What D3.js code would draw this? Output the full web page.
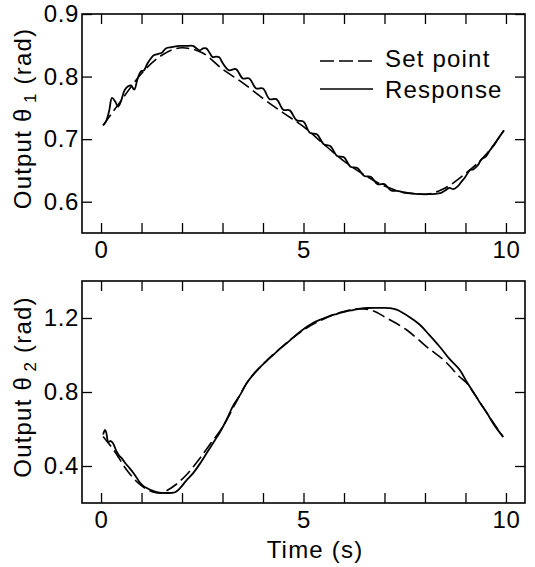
<!DOCTYPE html>
<html>
<head>
<meta charset="utf-8">
<script src="https://cdn.jsdelivr.net/npm/d3@7"></script>
<style>
  body { margin: 0; background: #fff; }
  svg text { font-family: "Liberation Sans", Arial, sans-serif; fill: #000; }
</style>
</head>
<body>
<script>
// ---- data ----
// top panel: theta 1
var set_t1 = [0.05, 0.5, 1.0, 1.5, 2.0, 2.5, 3.0, 3.5, 4.0, 4.5, 5.0, 5.5, 6.0, 6.5, 7.0, 7.5, 8.0, 8.5, 9.0, 9.5, 9.95];
var set_v1 = [0.722, 0.762, 0.805, 0.834, 0.846, 0.838, 0.812, 0.79, 0.765, 0.742, 0.72, 0.692, 0.665, 0.643, 0.625, 0.615, 0.612, 0.622, 0.645, 0.675, 0.714];

var resp_t1 = [0.05, 0.12, 0.2, 0.27, 0.35, 0.42, 0.5, 0.58, 0.66, 0.74, 0.82, 0.9, 0.98, 1.06, 1.14, 1.22, 1.3, 1.4, 1.5, 1.6, 1.75, 1.95, 2.1, 2.27, 2.36, 2.44, 2.52, 2.6, 2.68, 2.76, 2.84, 2.92, 3.0, 3.16, 3.33, 3.5, 3.66, 3.83, 4.0, 4.16, 4.33, 4.5, 4.66, 4.83, 5.0, 5.16, 5.33, 5.5, 5.66, 5.83, 6.0, 6.16, 6.33, 6.5, 6.66, 6.83, 7.0, 7.16, 7.35, 7.5, 7.7, 7.9, 8.1, 8.3, 8.4, 8.5, 8.6, 8.7, 8.8, 8.9, 9.0, 9.1, 9.2, 9.3, 9.4, 9.5, 9.6, 9.7, 9.8, 9.95];
var resp_v1 = [0.722, 0.728, 0.745, 0.766, 0.760, 0.752, 0.762, 0.778, 0.784, 0.786, 0.779, 0.796, 0.808, 0.810, 0.820, 0.828, 0.834, 0.836, 0.838, 0.845, 0.847, 0.849, 0.849, 0.849, 0.845, 0.842, 0.845, 0.845, 0.838, 0.831, 0.832, 0.831, 0.822, 0.810, 0.812, 0.797, 0.797, 0.781, 0.781, 0.764, 0.764, 0.747, 0.746, 0.730, 0.728, 0.710, 0.708, 0.692, 0.689, 0.673, 0.671, 0.656, 0.654, 0.641, 0.640, 0.628, 0.628, 0.618, 0.617, 0.614, 0.613, 0.612, 0.612, 0.613, 0.614, 0.618, 0.622, 0.620, 0.624, 0.632, 0.640, 0.650, 0.652, 0.658, 0.668, 0.672, 0.682, 0.690, 0.700, 0.714];

// bottom panel: theta 2
var set_t2 = [0.05, 0.3, 0.63, 0.96, 1.28, 1.5, 1.65, 1.85, 2.1, 2.4, 2.7, 3.0, 3.3, 3.6, 4.0, 4.5, 5.0, 5.5, 6.0, 6.4, 6.7, 7.05, 7.55, 8.05, 8.54, 8.86, 9.03, 9.19, 9.53, 9.93];
var set_v2 = [0.56, 0.49, 0.38, 0.30, 0.26, 0.253, 0.27, 0.30, 0.35, 0.43, 0.52, 0.61, 0.73, 0.849, 0.95, 1.05, 1.135, 1.195, 1.235, 1.25, 1.24, 1.2, 1.135, 1.043, 0.957, 0.881, 0.849, 0.8, 0.686, 0.557];

var resp_t2 = [0.05, 0.1, 0.13, 0.18, 0.24, 0.3, 0.38, 0.45, 0.52, 0.6, 0.7, 0.8, 0.9, 0.96, 1.05, 1.13, 1.25, 1.38, 1.5, 1.62, 1.75, 1.83, 1.95, 2.1, 2.27, 2.45, 2.61, 2.8, 2.94, 3.1, 3.26, 3.45, 3.6, 3.8, 3.93, 4.1, 4.25, 4.45, 4.59, 4.75, 4.91, 5.1, 5.23, 5.4, 5.58, 5.75, 5.9, 6.05, 6.22, 6.4, 6.57, 6.8, 7.0, 7.14, 7.3, 7.46, 7.65, 7.88, 8.1, 8.37, 8.6, 8.86, 9.03, 9.19, 9.35, 9.53, 9.7, 9.93];
var resp_v2 = [0.57, 0.595, 0.58, 0.53, 0.535, 0.522, 0.48, 0.455, 0.44, 0.415, 0.39, 0.362, 0.33, 0.31, 0.29, 0.281, 0.268, 0.259, 0.255, 0.254, 0.255, 0.258, 0.28, 0.32, 0.36, 0.415, 0.47, 0.535, 0.584, 0.65, 0.725, 0.79, 0.849, 0.905, 0.935, 0.97, 1.0, 1.04, 1.065, 1.095, 1.124, 1.155, 1.173, 1.19, 1.205, 1.218, 1.227, 1.236, 1.243, 1.25, 1.254, 1.255, 1.255, 1.253, 1.245, 1.227, 1.2, 1.162, 1.11, 1.043, 0.98, 0.919, 0.855, 0.8, 0.745, 0.686, 0.625, 0.557];

var x_ticks = [0, 1, 2, 3, 4, 5, 6, 7, 8, 9, 10];
var x_labels = [0, 5, 10];
var y1_ticks = [0.6, 0.7, 0.8, 0.9];
var y2_ticks = [0.4, 0.8, 1.2];

var legend_labels = ["Set point", "Response"];

// ---- layout ----
var W = 535, H = 567;
var left = 82, right = 525;

var svg = d3.select("body").append("svg")
  .attr("width", W)
  .attr("height", H);

function zip(a, b){
  var out = [];
  for(var i = 0; i < a.length; i++){ out.push([a[i], b[i]]); }
  return out;
}

function draw_panel(top, bottom, y_domain, y_ticks, set_t, set_v, resp_t, resp_v, sub){
  var x = d3.scaleLinear().domain([-0.47, 10.47]).range([left, right]);
  var y = d3.scaleLinear().domain(y_domain).range([bottom, top]);
  var g = svg.append("g");

  // ticks on all four sides, pointing in
  g.append("g")
    .attr("transform", "translate(0," + bottom + ")")
    .call(d3.axisBottom(x).tickValues(x_ticks).tickSize(-10).tickPadding(8)
      .tickFormat(function(d){ return x_labels.indexOf(d) >= 0 ? d : ""; }))
    .call(function(a){ a.select(".domain").remove(); });
  g.append("g")
    .attr("transform", "translate(0," + top + ")")
    .call(d3.axisTop(x).tickValues(x_ticks).tickSize(-10).tickFormat(""))
    .call(function(a){ a.select(".domain").remove(); });
  g.append("g")
    .attr("transform", "translate(" + left + ",0)")
    .call(d3.axisLeft(y).tickValues(y_ticks).tickSize(-10).tickPadding(3).tickFormat(d3.format(".1f")))
    .call(function(a){ a.select(".domain").remove(); });
  g.append("g")
    .attr("transform", "translate(" + right + ",0)")
    .call(d3.axisRight(y).tickValues(y_ticks).tickSize(-10).tickFormat(""))
    .call(function(a){ a.select(".domain").remove(); });

  g.selectAll(".tick line").attr("stroke", "#000").attr("stroke-width", 1.3);
  g.selectAll(".tick text")
    .style("font-size", "24px")
    .style("letter-spacing", "0.6px")
    .style("font-family", "Liberation Sans, Arial, sans-serif");

  // frame
  g.append("rect")
    .attr("x", left).attr("y", top)
    .attr("width", right - left).attr("height", bottom - top)
    .attr("fill", "none").attr("stroke", "#000").attr("stroke-width", 1.6);

  var line = d3.line()
    .x(function(d){ return x(d[0]); })
    .y(function(d){ return y(d[1]); });

  g.append("path")
    .datum(zip(set_t, set_v))
    .attr("d", line.curve(d3.curveMonotoneX))
    .attr("fill", "none").attr("stroke", "#000").attr("stroke-width", 1.6)
    .attr("stroke-dasharray", "13,5");

  g.append("path")
    .datum(zip(resp_t, resp_v))
    .attr("d", line.curve(d3.curveCatmullRom.alpha(0.5)))
    .attr("fill", "none").attr("stroke", "#000").attr("stroke-width", 1.8)
    .attr("stroke-linejoin", "round");

  // y label
  var yl = g.append("text")
    .attr("transform", "translate(31," + ((top + bottom) / 2 - 5) + ") rotate(-90)")
    .attr("text-anchor", "middle")
    .style("font-size", "24px")
    .style("letter-spacing", "1.2px");
  yl.append("tspan").text("Output \u03b8");
  yl.append("tspan").attr("dy", 5).style("font-size", "17px").text("\u2009" + sub);
  yl.append("tspan").attr("dy", -5).text(" (rad)");
}

draw_panel(14, 233, [0.55, 0.9], y1_ticks, set_t1, set_v1, resp_t1, resp_v1, "1");
draw_panel(281, 503, [0.2, 1.4], y2_ticks, set_t2, set_v2, resp_t2, resp_v2, "2");

// x label
svg.append("text")
  .attr("x", 315).attr("y", 558)
  .attr("text-anchor", "middle")
  .style("font-size", "24px")
  .style("letter-spacing", "1.2px")
  .text("Time (s)");

// legend
var leg = svg.append("g");
leg.selectAll("line")
  .data(legend_labels)
  .enter()
  .append("line")
  .attr("x1", 320).attr("x2", 373)
  .attr("y1", function(d, i){ return 61 + i * 28; })
  .attr("y2", function(d, i){ return 61 + i * 28; })
  .attr("stroke", "#000").attr("stroke-width", 1.6)
  .attr("stroke-dasharray", function(d, i){ return i == 0 ? "14,5" : null; });
leg.selectAll("text")
  .data(legend_labels)
  .enter()
  .append("text")
  .attr("x", 385)
  .attr("y", function(d, i){ return 67 + i * 31; })
  .style("font-size", "24px")
  .style("letter-spacing", "1.2px")
  .text(function(d){ return d; });
</script>
</body>
</html>
